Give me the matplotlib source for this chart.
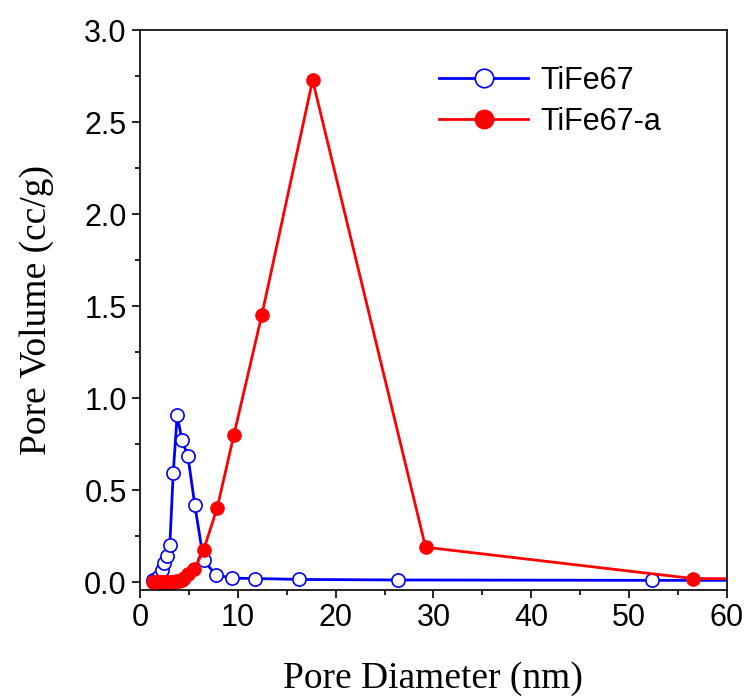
import matplotlib
matplotlib.use("Agg")
import matplotlib.pyplot as plt
from matplotlib.ticker import MultipleLocator

# TiFe67 (открытые синие кружки)
d_blue = [1.3, 1.6, 1.9, 2.2, 2.5, 2.75, 3.05, 3.4, 3.8, 4.3, 4.9, 5.6, 6.5,
          7.75, 9.4, 11.8, 16.3, 26.4, 52.3, 80]
v_blue = [0.012, 0.02, 0.035, 0.065, 0.105, 0.145, 0.20, 0.595, 0.907, 0.77,
          0.685, 0.42, 0.12, 0.04, 0.022, 0.02, 0.015, 0.012, 0.01, 0.01]

# TiFe67-a (красные заполненные кружки)
d_red = [1.3, 1.5, 1.7, 1.9, 2.1, 2.35, 2.6, 2.85, 3.1, 3.4, 3.7, 4.0, 4.3,
         4.55, 4.9, 5.55, 6.5, 7.9, 9.6, 12.45, 17.65, 29.2, 56.5, 80]
v_red = [0.003, 0.003, 0.003, 0.003, 0.003, 0.003, 0.003, 0.003, 0.003, 0.003,
         0.004, 0.006, 0.012, 0.025, 0.043, 0.07, 0.174, 0.405, 0.80, 1.45,
         2.728, 0.19, 0.02, 0.012]

fig = plt.figure(figsize=(7.47, 7.0), dpi=100)
ax = fig.add_axes([0.1874, 0.157, 0.7856, 0.800])

ax.plot(d_blue, v_blue, color='blue', lw=2, marker='o', ms=9.5,
        mfc='white', mec='blue', mew=1.2, label='TiFe67')
ax.plot(d_red, v_red, color='red', lw=2, marker='o', ms=9.5,
        mfc='red', mec='red', label='TiFe67-a')

ax.set_xlim(0, 60)
ax.set_ylim(-0.043, 3.0)
ax.xaxis.set_major_locator(MultipleLocator(10))
ax.xaxis.set_minor_locator(MultipleLocator(5))
ax.yaxis.set_minor_locator(MultipleLocator(0.25))
ax.set_yticks([0, 0.5, 1.0, 1.5, 2.0, 2.5, 3.0])
ax.set_yticklabels(['0.0', '0.5', '1.0', '1.5', '2.0', '2.5', '3.0'])

ax.tick_params(which='major', direction='out', length=6, width=1.2,
               labelsize=22, top=False, right=False)
ax.tick_params(which='minor', direction='out', length=3.5, width=1.2,
               top=False, right=False)
for lab in ax.get_xticklabels() + ax.get_yticklabels():
    lab.set_fontfamily('Liberation Sans')
for s in ax.spines.values():
    s.set_linewidth(1.2)

ax.set_xlabel('Pore Diameter (nm)', fontsize=27, family='Liberation Serif',
              labelpad=20)
ax.set_ylabel('Pore Volume (cc/g)', fontsize=27, family='Liberation Serif',
              labelpad=22)

leg = ax.legend(loc='upper right', bbox_to_anchor=(0.935, 0.985), frameon=False,
                prop={'family': 'Liberation Sans', 'size': 22},
                handlelength=2.9, markerscale=1.4, labelspacing=0.35,
                handletextpad=0.4)

fig.savefig('out.png', dpi=100)
